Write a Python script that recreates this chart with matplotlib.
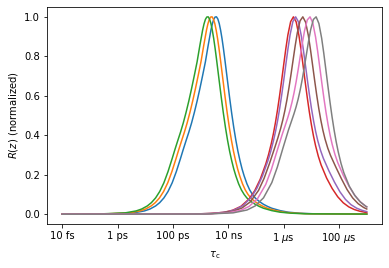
import matplotlib
matplotlib.use("Agg")
import matplotlib.pyplot as plt

# log10(tau_c / s) positions and normalized sensitivities
z_blue = [-14, -12.43, -11.43, -11.03, -10.83, -10.63, -10.48, -10.33, -10.18, -10.03,
          -9.88, -9.73, -9.63, -9.53, -9.43, -9.33, -9.23, -9.13, -9.03, -8.93,
          -8.83, -8.73, -8.63, -8.58, -8.53, -8.48, -8.43, -8.38, -8.33, -8.28,
          -8.23, -8.18, -8.13, -8.03, -7.955, -7.88, -7.805, -7.73, -7.655, -7.58,
          -7.505, -7.43, -7.33, -7.23, -7.13, -7.03, -6.88, -6.73, -6.58, -6.43,
          -6.13, -5.83, -5.43, -4.93, -3]
z_orange = [-14, -12.59, -11.59, -11.19, -10.99, -10.79, -10.64, -10.49, -10.34, -10.19,
            -10.04, -9.89, -9.79, -9.69, -9.59, -9.49, -9.39, -9.29, -9.19, -9.09,
            -8.99, -8.89, -8.79, -8.74, -8.69, -8.64, -8.59, -8.54, -8.49, -8.44,
            -8.39, -8.34, -8.29, -8.19, -8.115, -8.04, -7.965, -7.89, -7.815, -7.74,
            -7.665, -7.59, -7.49, -7.39, -7.29, -7.19, -7.04, -6.89, -6.74, -6.59,
            -6.29, -5.99, -5.59, -5.09, -3]
z_green = [-14, -12.73, -11.73, -11.33, -11.13, -10.93, -10.78, -10.63, -10.48, -10.33,
           -10.18, -10.03, -9.93, -9.83, -9.73, -9.63, -9.53, -9.43, -9.33, -9.23,
           -9.13, -9.03, -8.93, -8.88, -8.83, -8.78, -8.73, -8.68, -8.63, -8.58,
           -8.53, -8.48, -8.43, -8.33, -8.255, -8.18, -8.105, -8.03, -7.955, -7.88,
           -7.805, -7.73, -7.63, -7.53, -7.43, -7.33, -7.18, -7.03, -6.88, -6.73,
           -6.43, -6.13, -5.73, -5.23, -3]
r_blue = [0, 0.0007, 0.0066, 0.0166, 0.0263, 0.0416, 0.0586, 0.0823, 0.115, 0.159,
          0.216, 0.282, 0.328, 0.372, 0.415, 0.462, 0.515, 0.573, 0.636, 0.703,
          0.772, 0.855, 0.933, 0.964, 0.987, 0.999, 1.0, 0.989, 0.966, 0.932,
          0.890, 0.841, 0.787, 0.674, 0.590, 0.511, 0.439, 0.375, 0.319, 0.271,
          0.229, 0.194, 0.154, 0.123, 0.100, 0.082, 0.064, 0.050, 0.039, 0.030,
          0.018, 0.010, 0.005, 0.002, 0.0005]
r_orange = [0, 0.0007, 0.0066, 0.0166, 0.0263, 0.0416, 0.0586, 0.0823, 0.115, 0.159,
            0.216, 0.282, 0.328, 0.372, 0.415, 0.462, 0.515, 0.573, 0.636, 0.703,
            0.772, 0.855, 0.933, 0.964, 0.987, 0.999, 1.0, 0.989, 0.966, 0.932,
            0.890, 0.841, 0.787, 0.674, 0.590, 0.511, 0.439, 0.375, 0.319, 0.271,
            0.229, 0.194, 0.154, 0.123, 0.100, 0.082, 0.064, 0.050, 0.039, 0.030,
            0.018, 0.010, 0.005, 0.002, 0.0005]
r_green = [0, 0.0007, 0.0066, 0.0166, 0.0263, 0.0416, 0.0586, 0.0823, 0.115, 0.159,
           0.216, 0.282, 0.328, 0.372, 0.415, 0.462, 0.515, 0.573, 0.636, 0.703,
           0.772, 0.855, 0.933, 0.964, 0.987, 0.999, 1.0, 0.989, 0.966, 0.932,
           0.890, 0.841, 0.787, 0.674, 0.590, 0.511, 0.439, 0.375, 0.319, 0.271,
           0.229, 0.194, 0.154, 0.123, 0.100, 0.082, 0.064, 0.050, 0.039, 0.030,
           0.018, 0.010, 0.005, 0.002, 0.0005]

z_red = [-14, -9.65, -8.65, -8.15, -7.85, -7.55, -7.25, -7.05, -6.85, -6.65,
         -6.55, -6.45, -6.375, -6.30, -6.225, -6.15, -6.075, -6.00, -5.925, -5.85,
         -5.75, -5.65, -5.55, -5.45, -5.375, -5.30, -5.225, -5.15, -5.075, -5.00,
         -4.925, -4.85, -4.75, -4.65, -4.45, -4.25, -4.05, -3.85, -3.65, -3.45,
         -3.25, -3.05, -3.0]
r_red = [0, 0.0003, 0.0031, 0.0099, 0.0198, 0.0394, 0.0772, 0.1187, 0.1769, 0.2538,
         0.3013, 0.3575, 0.4069, 0.4637, 0.5282, 0.6001, 0.6780, 0.7589, 0.8379, 0.9084,
         0.9758, 1.0, 0.9741, 0.9047, 0.8331, 0.7527, 0.6704, 0.5913, 0.5182, 0.4529,
         0.3959, 0.3471, 0.2931, 0.2496, 0.1827, 0.1302, 0.0883, 0.0577, 0.0370, 0.0235,
         0.0149, 0.0094, 0.0084]

z_purple = [-14, -9.57, -8.57, -8.07, -7.77, -7.47, -7.17, -6.97, -6.77, -6.57,
            -6.47, -6.37, -6.295, -6.22, -6.145, -6.07, -5.995, -5.92, -5.845, -5.77,
            -5.67, -5.57, -5.47, -5.37, -5.295, -5.22, -5.145, -5.07, -4.995, -4.92,
            -4.845, -4.77, -4.67, -4.57, -4.37, -4.17, -3.97, -3.77, -3.57, -3.37,
            -3.17, -3.0]
r_purple = [0, 0.0003, 0.0035, 0.0111, 0.0221, 0.0439, 0.0858, 0.1312, 0.1931, 0.2714,
            0.3181, 0.3727, 0.4204, 0.4751, 0.5376, 0.6075, 0.6835, 0.7627, 0.8401, 0.9095,
            0.9760, 1.0, 0.9749, 0.9071, 0.8372, 0.7590, 0.6792, 0.6029, 0.5329, 0.4710,
            0.4176, 0.3724, 0.3231, 0.2837, 0.2201, 0.1634, 0.1133, 0.0748, 0.0481, 0.0306,
            0.0194, 0.0130]

z_brown = [-14, -9.31, -8.31, -7.81, -7.51, -7.21, -6.91, -6.71, -6.51, -6.31,
           -6.21, -6.11, -6.035, -5.96, -5.885, -5.81, -5.735, -5.66, -5.585, -5.51,
           -5.41, -5.31, -5.21, -5.11, -5.035, -4.96, -4.885, -4.81, -4.735, -4.66,
           -4.585, -4.51, -4.41, -4.31, -4.11, -3.91, -3.71, -3.51, -3.31, -3.11,
           -3.0]
r_brown = [0, 0.0005, 0.0050, 0.0157, 0.0313, 0.0621, 0.1205, 0.1815, 0.2588, 0.3433,
           0.3872, 0.4354, 0.4767, 0.5242, 0.5791, 0.6415, 0.7103, 0.7829, 0.8544, 0.9186,
           0.9797, 1.0, 0.9729, 0.9047, 0.8352, 0.7580, 0.6795, 0.6048, 0.5365, 0.4765,
           0.4251, 0.3819, 0.3351, 0.2978, 0.2363, 0.1780, 0.1243, 0.0823, 0.0530, 0.0337,
           0.0262]

z_pink = [-14, -9.05, -8.05, -7.55, -7.25, -6.95, -6.65, -6.45, -6.25, -6.05,
          -5.95, -5.85, -5.775, -5.70, -5.625, -5.55, -5.475, -5.40, -5.325, -5.25,
          -5.15, -5.05, -4.95, -4.85, -4.775, -4.70, -4.625, -4.55, -4.475, -4.40,
          -4.325, -4.25, -4.15, -4.05, -3.85, -3.65, -3.45, -3.25, -3.05, -3.0]
r_pink = [0, 0.0006, 0.0063, 0.0198, 0.0394, 0.0779, 0.1507, 0.2253, 0.3163, 0.4063,
          0.4480, 0.4909, 0.5268, 0.5682, 0.6167, 0.6728, 0.7356, 0.8026, 0.8689, 0.9285,
          0.9842, 1.0, 0.9692, 0.8978, 0.8262, 0.7467, 0.6660, 0.5888, 0.5179, 0.4549,
          0.4003, 0.3538, 0.3028, 0.2618, 0.1974, 0.1437, 0.0986, 0.0648, 0.0416, 0.0376]

z_gray = [-14, -8.83, -7.83, -7.33, -7.03, -6.73, -6.43, -6.23, -6.03, -5.83,
          -5.73, -5.63, -5.555, -5.48, -5.405, -5.33, -5.255, -5.18, -5.105, -5.03,
          -4.93, -4.83, -4.73, -4.63, -4.555, -4.48, -4.405, -4.33, -4.255, -4.18,
          -4.105, -4.03, -3.93, -3.83, -3.63, -3.43, -3.23, -3.03, -3.0]
r_gray = [0, 0.0007, 0.0067, 0.0210, 0.0419, 0.0828, 0.1601, 0.2389, 0.3341, 0.4261,
          0.4673, 0.5087, 0.5431, 0.5828, 0.6295, 0.6839, 0.7450, 0.8103, 0.8751, 0.9331,
          0.9866, 1.0, 0.9664, 0.8917, 0.8172, 0.7346, 0.6503, 0.5692, 0.4940, 0.4263,
          0.3667, 0.3150, 0.2572, 0.2105, 0.1414, 0.0942, 0.0614, 0.0394, 0.0369]

tick_pos = [-14, -12, -10, -8, -6, -4]
tick_labels = ['10 fs', '1 ps', '100 ps', '10 ns', r'1 $\mu$s', r'100 $\mu$s']

series = [
    (z_blue, r_blue, 'C0'),
    (z_orange, r_orange, 'C1'),
    (z_green, r_green, 'C2'),
    (z_red, r_red, 'C3'),
    (z_purple, r_purple, 'C4'),
    (z_brown, r_brown, 'C5'),
    (z_pink, r_pink, 'C6'),
    (z_gray, r_gray, 'C7'),
]

DPI = 72
fig = plt.figure(figsize=(389 / DPI, 268 / DPI), dpi=DPI)
ax = fig.add_axes([0.121, 0.164, 0.861, 0.810])
for z, r, c in series:
    ax.plot(z, r, color=c, linewidth=1.5)

ax.set_xticks(tick_pos)
ax.set_xticklabels(tick_labels)
ax.set_xlabel(r'$\tau_\mathrm{c}$')
ax.set_ylabel(r'$R(z)$ (normalized)')
fig.savefig('out.png', dpi=DPI)
